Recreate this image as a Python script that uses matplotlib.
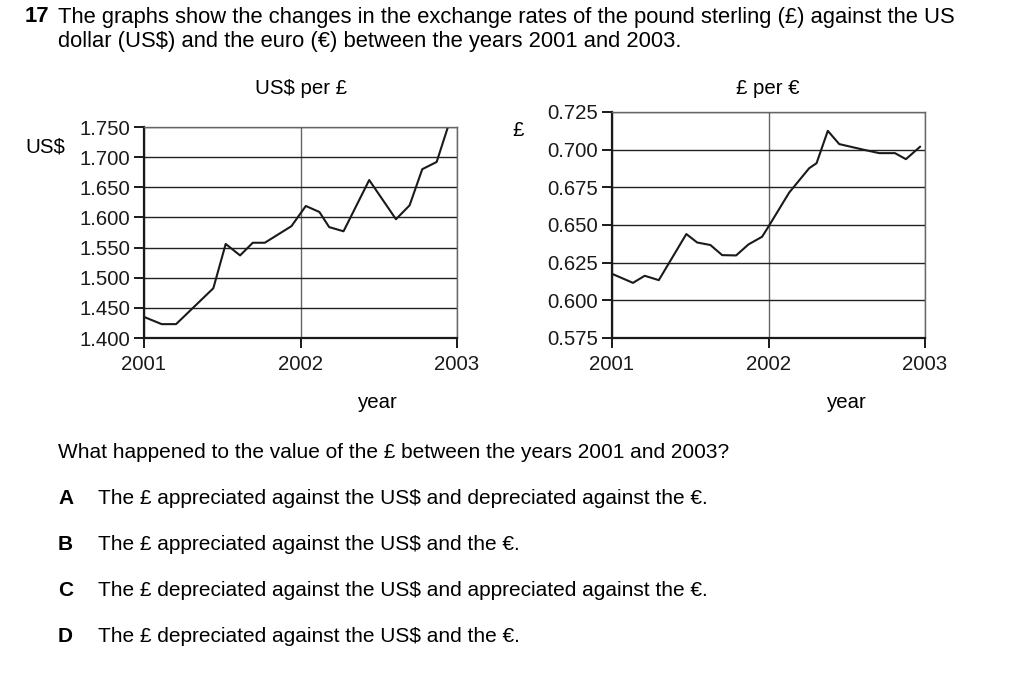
import numpy as np
import matplotlib.pyplot as plt

plt.rcParams['font.family'] = ['Liberation Sans', 'DejaVu Sans']

# US$ per pound, time measured in years since 2001
usd_t = [0.0, 0.113, 0.205, 0.443, 0.522, 0.614, 0.695, 0.772, 0.942, 1.034,
         1.121, 1.183, 1.275, 1.439, 1.610, 1.697, 1.778, 1.870, 1.942]
usd_v = [1.435, 1.423, 1.423, 1.4825, 1.556, 1.537, 1.558, 1.558, 1.5855, 1.619,
         1.609, 1.584, 1.577, 1.662, 1.597, 1.620, 1.680, 1.692, 1.750]

# pound per euro
eur_t = [0.0, 0.134, 0.209, 0.299, 0.475, 0.544, 0.629, 0.704, 0.793, 0.872,
         0.959, 1.002, 1.132, 1.260, 1.307, 1.379, 1.452, 1.606, 1.708, 1.808,
         1.878, 1.968]
eur_v = [0.6176, 0.6116, 0.6163, 0.6134, 0.644, 0.6384, 0.6367, 0.630, 0.6298,
         0.6371, 0.6422, 0.6493, 0.6715, 0.6877, 0.691, 0.7125, 0.7037, 0.700,
         0.6977, 0.6977, 0.6937, 0.7019]

years = [2001, 2002, 2003]
usd_ticks = [1.400, 1.450, 1.500, 1.550, 1.600, 1.650, 1.700, 1.750]
eur_ticks = [0.575, 0.600, 0.625, 0.650, 0.675, 0.700, 0.725]

W, H = 1030, 678
fig = plt.figure(figsize=(W / 100, H / 100), dpi=100)


def box(x0, y0, x1, y1):
    return [x0 / W, 1 - y1 / H, (x1 - x0) / W, (y1 - y0) / H]


def txt(x, y, s, **kw):
    kw.setdefault('fontsize', 15)
    kw.setdefault('va', 'center')
    fig.text(x / W, 1 - y / H, s, **kw)


def setup(ax, ticks, t, v):
    ax.plot(2001 + np.array(t), v, color='#1a1a1a', lw=1.5, clip_on=True)
    ax.set_xlim(2001, 2003)
    ax.set_ylim(ticks[0], ticks[-1])
    ax.set_xticks(years)
    ax.set_xticklabels([str(y) for y in years])
    ax.set_yticks(ticks)
    ax.set_yticklabels(['%.3f' % x for x in ticks])
    ax.grid(axis='y', color='#222222', lw=1.0)
    ax.grid(axis='x', color='#666666', lw=1.0)
    for s in ['top', 'right']:
        ax.spines[s].set_color('#666666')
        ax.spines[s].set_linewidth(1.0)
    for s in ['left', 'bottom']:
        ax.spines[s].set_color('#1a1a1a')
        ax.spines[s].set_linewidth(1.6)
    ax.tick_params(length=7, width=1.4, labelsize=14.7, pad=3, colors='#1a1a1a')
    ax.tick_params(axis='x', pad=5)
    ax.set_axisbelow(True)


ax1 = fig.add_axes(box(144, 127, 457, 338))
setup(ax1, usd_ticks, usd_t, usd_v)
ax2 = fig.add_axes(box(612, 112, 925, 338))
setup(ax2, eur_ticks, eur_t, eur_v)

txt(25, 17, '17', fontweight='bold', fontsize=15.8)
txt(58, 17, 'The graphs show the changes in the exchange rates of the pound sterling (£) against the US',
    fontsize=15.8)
txt(58, 41, 'dollar (US$) and the euro (€) between the years 2001 and 2003.', fontsize=15.8)
txt(301, 88, 'US$ per £', ha='center', fontsize=14.7)
txt(768, 88, '£ per €', ha='center', fontsize=14.7)
txt(25, 147, 'US$', fontsize=14.7)
txt(518, 130, '£', ha='center', fontsize=14.7)
txt(378, 402, 'year', ha='center', fontsize=14.7)
txt(847, 402, 'year', ha='center', fontsize=14.7)
txt(58, 452, 'What happened to the value of the £ between the years 2001 and 2003?')

options = ['A', 'B', 'C', 'D']
answers = ['The £ appreciated against the US$ and depreciated against the €.',
           'The £ appreciated against the US$ and the €.',
           'The £ depreciated against the US$ and appreciated against the €.',
           'The £ depreciated against the US$ and the €.']
for i, (o, a) in enumerate(zip(options, answers)):
    y = 499 + i * 45.7
    txt(58, y, o, fontweight='bold')
    txt(98, y, a)

fig.savefig('out.png', dpi=100)
